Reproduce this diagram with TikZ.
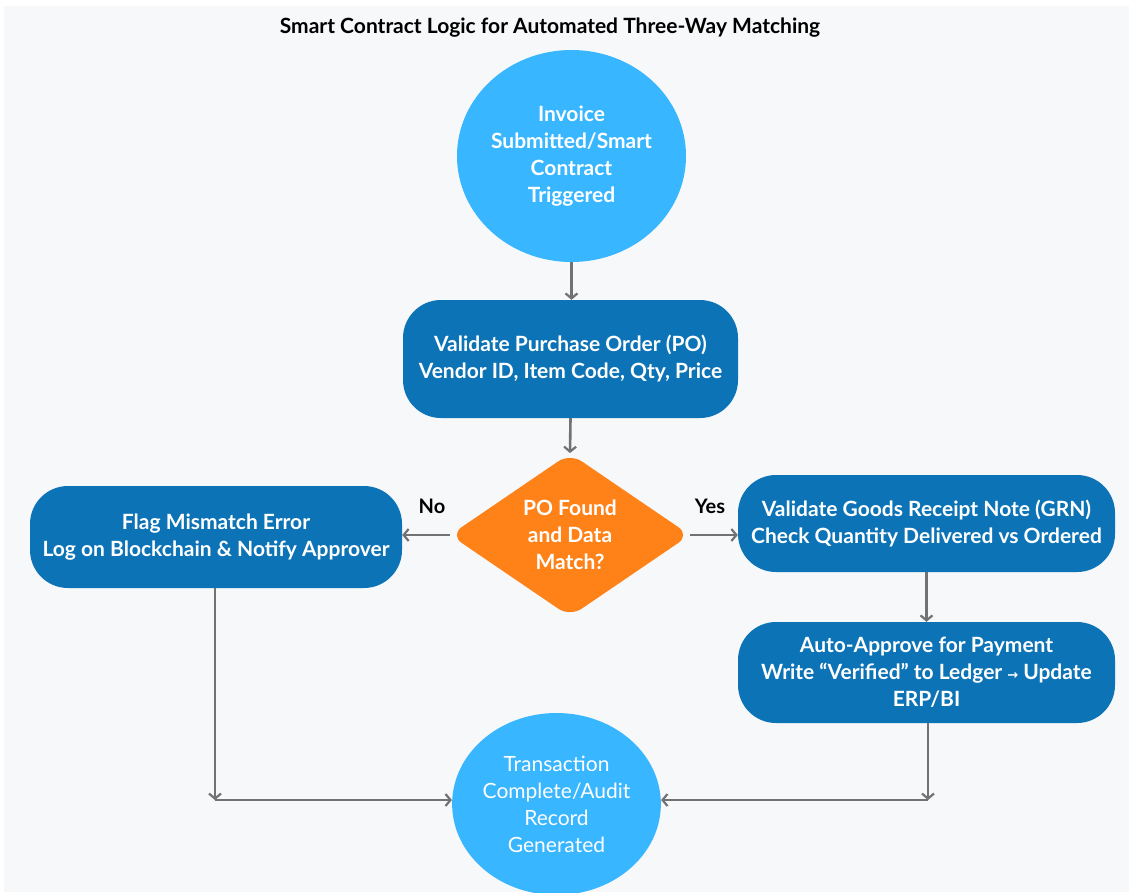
\documentclass[tikz,border=0pt]{standalone}
\usepackage{fontspec}
\setmainfont{Lato}
\newfontfamily\symfont{DejaVu Sans}
\usetikzlibrary{shapes.geometric,arrows.meta}
\definecolor{bgc}{HTML}{F7F8FA}
\definecolor{lblue}{HTML}{38B6FF}
\definecolor{dblue}{HTML}{0B73B6}
\definecolor{orng}{HTML}{FF8218}
\definecolor{arrc}{HTML}{727272}
\begin{document}
\begin{tikzpicture}[x=1pt,y=-1pt,
  txt/.style={text=white,font=\fontsize{21}{27}\selectfont\bfseries,align=center,inner sep=0pt},
  circ/.style={txt,ellipse,fill=lblue},
  box/.style={txt,rectangle,fill=dblue,rounded corners=38pt},
  dec/.style={txt,diamond,fill=orng,rounded corners=14pt},
  lbl/.style={text=black,font=\fontsize{20}{24}\selectfont\bfseries,inner sep=0pt},
  arr/.style={draw=arrc,line width=2.6pt,-{Straight Barb[length=5pt,width=12pt,line width=2.2pt]}}
]
\useasboundingbox (0,0) rectangle (1129,892);
\fill[white] (0,0) rectangle (1129,892);
\fill[bgc] (4,6) rectangle (1129,892);

\node[font=\fontsize{21}{24}\selectfont\bfseries,inner sep=0pt] (title) at (550,28) {Smart Contract Logic for Automated Three-Way Matching};

\node[circ,minimum width=229pt,minimum height=212pt] (top) at (571.5,156) {Invoice\\Submitted/Smart\\Contract\\Triggered};
\node[box,minimum width=335pt,minimum height=118pt] (po) at (570.5,359) {Validate Purchase Order (PO)\\Vendor ID, Item Code, Qty, Price};
\node[dec,minimum width=240pt,minimum height=158pt] (dia) at (570,535) {PO Found\\and Data\\Match?};
\node[box,minimum width=372pt,minimum height=102pt] (left) at (216,537) {Flag Mismatch Error\\Log on Blockchain \& Notify Approver};
\node[box,minimum width=377pt,minimum height=97pt] (grn) at (926.5,523.5) {Validate Goods Receipt Note (GRN)\\Check Quantity Delivered vs Ordered};
\node[box,minimum width=377pt,minimum height=101pt] (auto) at (926.5,672.5) {Auto-Approve for Payment\\Write “Verified” to Ledger {\symfont\bfseries\fontsize{13}{13}\selectfont →} Update\\ERP/BI};
\node[circ,minimum width=207pt,minimum height=182pt,font=\fontsize{21}{27}\selectfont] (bot) at (556.5,804) {Transaction\\Complete/Audit\\Record\\Generated};

\node[lbl] (no) at (432,506) {No};
\node[lbl] (yes) at (710,506) {Yes};

\coordinate (c1) at (215,800);
\coordinate (c2) at (928,800);

\draw[arr] (top.south) -- (top.south |- po.north);
\draw[arr] (po.south) -- (dia.north);
\draw[arr] (dia.west) -- (dia.west -| left.east);
\draw[arr] (dia.east) -- (dia.east -| grn.west);
\draw[arr] (grn.south) -- (grn.south |- auto.north);
\draw[arr] (left.south -| c1) -- (c1);
\draw[arr] (c1) -- (c1 -| bot.west);
\draw[arr] (auto.south -| c2) -- (c2);
\draw[arr] (c2) -- (c2 -| bot.east);
\end{tikzpicture}
\end{document}
